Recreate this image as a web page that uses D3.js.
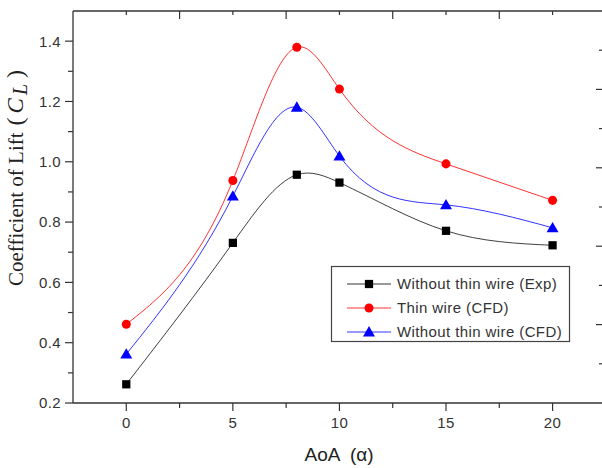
<!doctype html>
<html lang="en">
<head>
<meta charset="utf-8" />
<title>Coefficient of Lift vs AoA</title>
<script src="https://cdn.jsdelivr.net/npm/d3@7"></script>
<style>
    html, body { margin: 0; background: #fff; }
    svg { display: block; }
    .tick-label { font-family: "Liberation Sans", Arial, sans-serif; font-size: 15px; fill: #333; letter-spacing: 0.4px; }
    .legend-label { font-family: "Liberation Sans", Arial, sans-serif; font-size: 15px; fill: #333; letter-spacing: 0.4px; }
</style>
</head>
<body>
<div id="chart"></div>
<script>
// AoA (deg) for every series
const aoa = [0, 5, 8, 10, 15, 20];

// lift coefficient per series
const expNoWire = [0.262, 0.731, 0.957, 0.931, 0.771, 0.723];
const cfdWire   = [0.461, 0.938, 1.380, 1.241, 0.993, 0.872];
const cfdNoWire = [0.362, 0.886, 1.181, 1.019, 0.857, 0.781];

const seriesNames = ["Without thin wire (Exp)", "Thin wire (CFD)", "Without thin wire (CFD)"];
const seriesColors = ["#000000", "#ff0000", "#0000ff"];
const seriesShapes = ["square", "circle", "triangle"];

const yTicks = [0.2, 0.4, 0.6, 0.8, 1.0, 1.2, 1.4];
const xTicks = [0, 5, 10, 15, 20];

const width = 602, height = 468;
const plotLeft = 73, plotRight = 601.6, plotTop = 11, plotBottom = 403;
const frameRight = 603;

const x = d3.scaleLinear().domain([-2.5, 22.3]).range([plotLeft, plotRight]);
const y = d3.scaleLinear().domain([0.2, 1.5]).range([plotBottom, plotTop]);
// the right-hand frame carries its own ticks (unlabelled)
const yRight = d3.scaleLinear().domain([0, 5]).range([plotBottom, plotTop]);

const svg = d3.select("#chart").append("svg")
    .attr("width", width)
    .attr("height", height);

const axisColor = "#333";

// frame lines
svg.append("line").attr("x1", plotLeft).attr("x2", plotLeft).attr("y1", plotTop).attr("y2", plotBottom)
    .attr("stroke", axisColor).attr("stroke-width", 1.3);
svg.append("line").attr("x1", plotLeft).attr("x2", frameRight).attr("y1", plotBottom).attr("y2", plotBottom)
    .attr("stroke", axisColor).attr("stroke-width", 1.3);
svg.append("line").attr("x1", plotLeft).attr("x2", frameRight).attr("y1", plotTop).attr("y2", plotTop)
    .attr("stroke", axisColor).attr("stroke-width", 1.3);
svg.append("line").attr("x1", frameRight).attr("x2", frameRight).attr("y1", plotTop).attr("y2", plotBottom)
    .attr("stroke", axisColor).attr("stroke-width", 1.3);

// left axis ticks (outward)
const yMinor = d3.range(0.3, 1.5, 0.2);
svg.selectAll(".ymaj").data(yTicks).join("line")
    .attr("x1", plotLeft - 8).attr("x2", plotLeft)
    .attr("y1", d => y(d)).attr("y2", d => y(d))
    .attr("stroke", axisColor).attr("stroke-width", 1.2);
svg.selectAll(".ymin").data(yMinor).join("line")
    .attr("x1", plotLeft - 5).attr("x2", plotLeft)
    .attr("y1", d => y(d)).attr("y2", d => y(d))
    .attr("stroke", axisColor).attr("stroke-width", 1.2);
svg.selectAll(".ylab").data(yTicks).join("text")
    .attr("class", "tick-label")
    .attr("x", plotLeft - 12)
    .attr("y", d => y(d))
    .attr("dy", "0.36em")
    .attr("text-anchor", "end")
    .text(d3.format(".1f"));

// bottom axis ticks (outward)
const xMinor = [2.5, 7.5, 12.5, 17.5];
svg.selectAll(".xmaj").data(xTicks).join("line")
    .attr("x1", d => x(d)).attr("x2", d => x(d))
    .attr("y1", plotBottom).attr("y2", plotBottom + 8)
    .attr("stroke", axisColor).attr("stroke-width", 1.2);
svg.selectAll(".xmin").data(xMinor).join("line")
    .attr("x1", d => x(d)).attr("x2", d => x(d))
    .attr("y1", plotBottom).attr("y2", plotBottom + 5)
    .attr("stroke", axisColor).attr("stroke-width", 1.2);
svg.selectAll(".xlab").data(xTicks).join("text")
    .attr("class", "tick-label")
    .attr("x", d => x(d))
    .attr("y", plotBottom + 25)
    .attr("text-anchor", "middle")
    .text(d => d);

// top axis ticks (inward)
const topTicks = d3.range(0, 20.1, 2.5);
svg.selectAll(".xtop").data(topTicks).join("line")
    .attr("x1", d => x(d)).attr("x2", d => x(d))
    .attr("y1", plotTop).attr("y2", d => plotTop + (d % 5 === 0 ? 4 : 8))
    .attr("stroke", axisColor).attr("stroke-width", 1.2);

// right axis ticks (inward)
const rightTicks = d3.range(0.5, 5, 0.5);
svg.selectAll(".yright").data(rightTicks).join("line")
    .attr("x1", d => frameRight - (d % 1 === 0 ? 7 : 4)).attr("x2", frameRight)
    .attr("y1", d => yRight(d)).attr("y2", d => yRight(d))
    .attr("stroke", axisColor).attr("stroke-width", 1.2);

// axis titles
svg.append("text")
    .attr("x", 339)
    .attr("y", 461)
    .attr("text-anchor", "middle")
    .style("white-space", "pre")
    .attr("font-family", "Liberation Sans, Arial, sans-serif")
    .attr("font-size", 19)
    .attr("fill", "#222")
    .text("AoA  (α)");

const yTitle = svg.append("text")
    .attr("transform", "translate(23,178) rotate(-90)")
    .attr("text-anchor", "middle")
    .attr("font-family", "Liberation Serif, Times New Roman, serif")
    .attr("font-size", 21)
    .attr("fill", "#222");
yTitle.append("tspan").text("Coefficient of Lift");
yTitle.append("tspan").attr("dx", 7).attr("font-size", 24).text("(");
yTitle.append("tspan").attr("dx", 4).attr("font-style", "italic").attr("font-size", 23).text("C");
yTitle.append("tspan").attr("dx", 3).attr("font-style", "italic").attr("font-size", 20).attr("dy", 4).text("L");
yTitle.append("tspan").attr("dx", 6).attr("dy", -4).attr("font-size", 24).text(")");

// natural cubic spline y(x) drawn as bezier segments
function naturalX(context) {
    let xs, ys;
    return {
        lineStart() { xs = []; ys = []; },
        lineEnd() {
            const n = xs.length - 1;
            if (n < 1) return;
            const h = d3.range(n).map(i => xs[i + 1] - xs[i]);
            const M = new Array(n + 1).fill(0);
            if (n > 1) {
                // tridiagonal solve for interior second derivatives
                const a = [], b = [], c = [], r = [];
                for (let i = 1; i < n; i++) {
                    a.push(h[i - 1]);
                    b.push(2 * (h[i - 1] + h[i]));
                    c.push(h[i]);
                    r.push(6 * ((ys[i + 1] - ys[i]) / h[i] - (ys[i] - ys[i - 1]) / h[i - 1]));
                }
                const m = b.length;
                for (let i = 1; i < m; i++) {
                    const w = a[i] / b[i - 1];
                    b[i] -= w * c[i - 1];
                    r[i] -= w * r[i - 1];
                }
                const sol = new Array(m);
                sol[m - 1] = r[m - 1] / b[m - 1];
                for (let i = m - 2; i >= 0; i--) sol[i] = (r[i] - c[i] * sol[i + 1]) / b[i];
                for (let i = 1; i < n; i++) M[i] = sol[i - 1];
            }
            const slope = [];
            for (let i = 0; i < n; i++) {
                slope.push((ys[i + 1] - ys[i]) / h[i] - h[i] * (2 * M[i] + M[i + 1]) / 6);
            }
            slope.push((ys[n] - ys[n - 1]) / h[n - 1] + h[n - 1] * (M[n - 1] + 2 * M[n]) / 6);
            context.moveTo(xs[0], ys[0]);
            for (let i = 0; i < n; i++) {
                context.bezierCurveTo(
                    xs[i] + h[i] / 3, ys[i] + slope[i] * h[i] / 3,
                    xs[i + 1] - h[i] / 3, ys[i + 1] - slope[i + 1] * h[i] / 3,
                    xs[i + 1], ys[i + 1]);
            }
        },
        point(px, py) { xs.push(+px); ys.push(+py); },
        areaStart() {}, areaEnd() {}
    };
}

const series = [expNoWire, cfdWire, cfdNoWire].map((vals, i) => ({
    name: seriesNames[i],
    color: seriesColors[i],
    shape: seriesShapes[i],
    points: aoa.map((a, j) => ({ a: a, cl: vals[j] }))
}));

const line = d3.line()
    .x(d => x(d.a))
    .y(d => y(d.cl))
    .curve(naturalX);

const symbolFor = {
    square: d3.symbol().type(d3.symbolSquare).size(68),
    circle: d3.symbol().type(d3.symbolCircle).size(64),
    triangle: d3.symbol().type(d3.symbolTriangle).size(62)
};

const g = svg.append("g");
series.forEach(s => {
    g.append("path")
        .attr("d", line(s.points))
        .attr("fill", "none")
        .attr("stroke", s.color)
        .attr("stroke-opacity", s.color === "#000000" ? 0.75 : 0.8)
        .attr("stroke-width", 1);
});
series.forEach(s => {
    g.selectAll(null).data(s.points).join("path")
        .attr("transform", d => `translate(${x(d.a)},${y(d.cl) + (s.shape === "triangle" ? 1 : 0)})`)
        .attr("d", symbolFor[s.shape]())
        .attr("fill", s.color);
});

// legend
const legend = svg.append("g");
legend.append("rect")
    .attr("x", 331.5).attr("y", 266.5)
    .attr("width", 238).attr("height", 75)
    .attr("fill", "#fff")
    .attr("stroke", "#444")
    .attr("stroke-width", 1.2);
series.forEach((s, i) => {
    const ly = 284 + i * 24;
    legend.append("line")
        .attr("x1", 347).attr("x2", 391)
        .attr("y1", ly).attr("y2", ly)
        .attr("stroke", s.color)
        .attr("stroke-opacity", 0.8);
    legend.append("path")
        .attr("transform", `translate(369,${ly + (s.shape === "triangle" ? 1 : 0)})`)
        .attr("d", symbolFor[s.shape]())
        .attr("fill", s.color);
    legend.append("text")
        .attr("class", "legend-label")
        .attr("x", 397)
        .attr("y", ly)
        .attr("dy", "0.36em")
        .text(s.name);
});
</script>
</body>
</html>
